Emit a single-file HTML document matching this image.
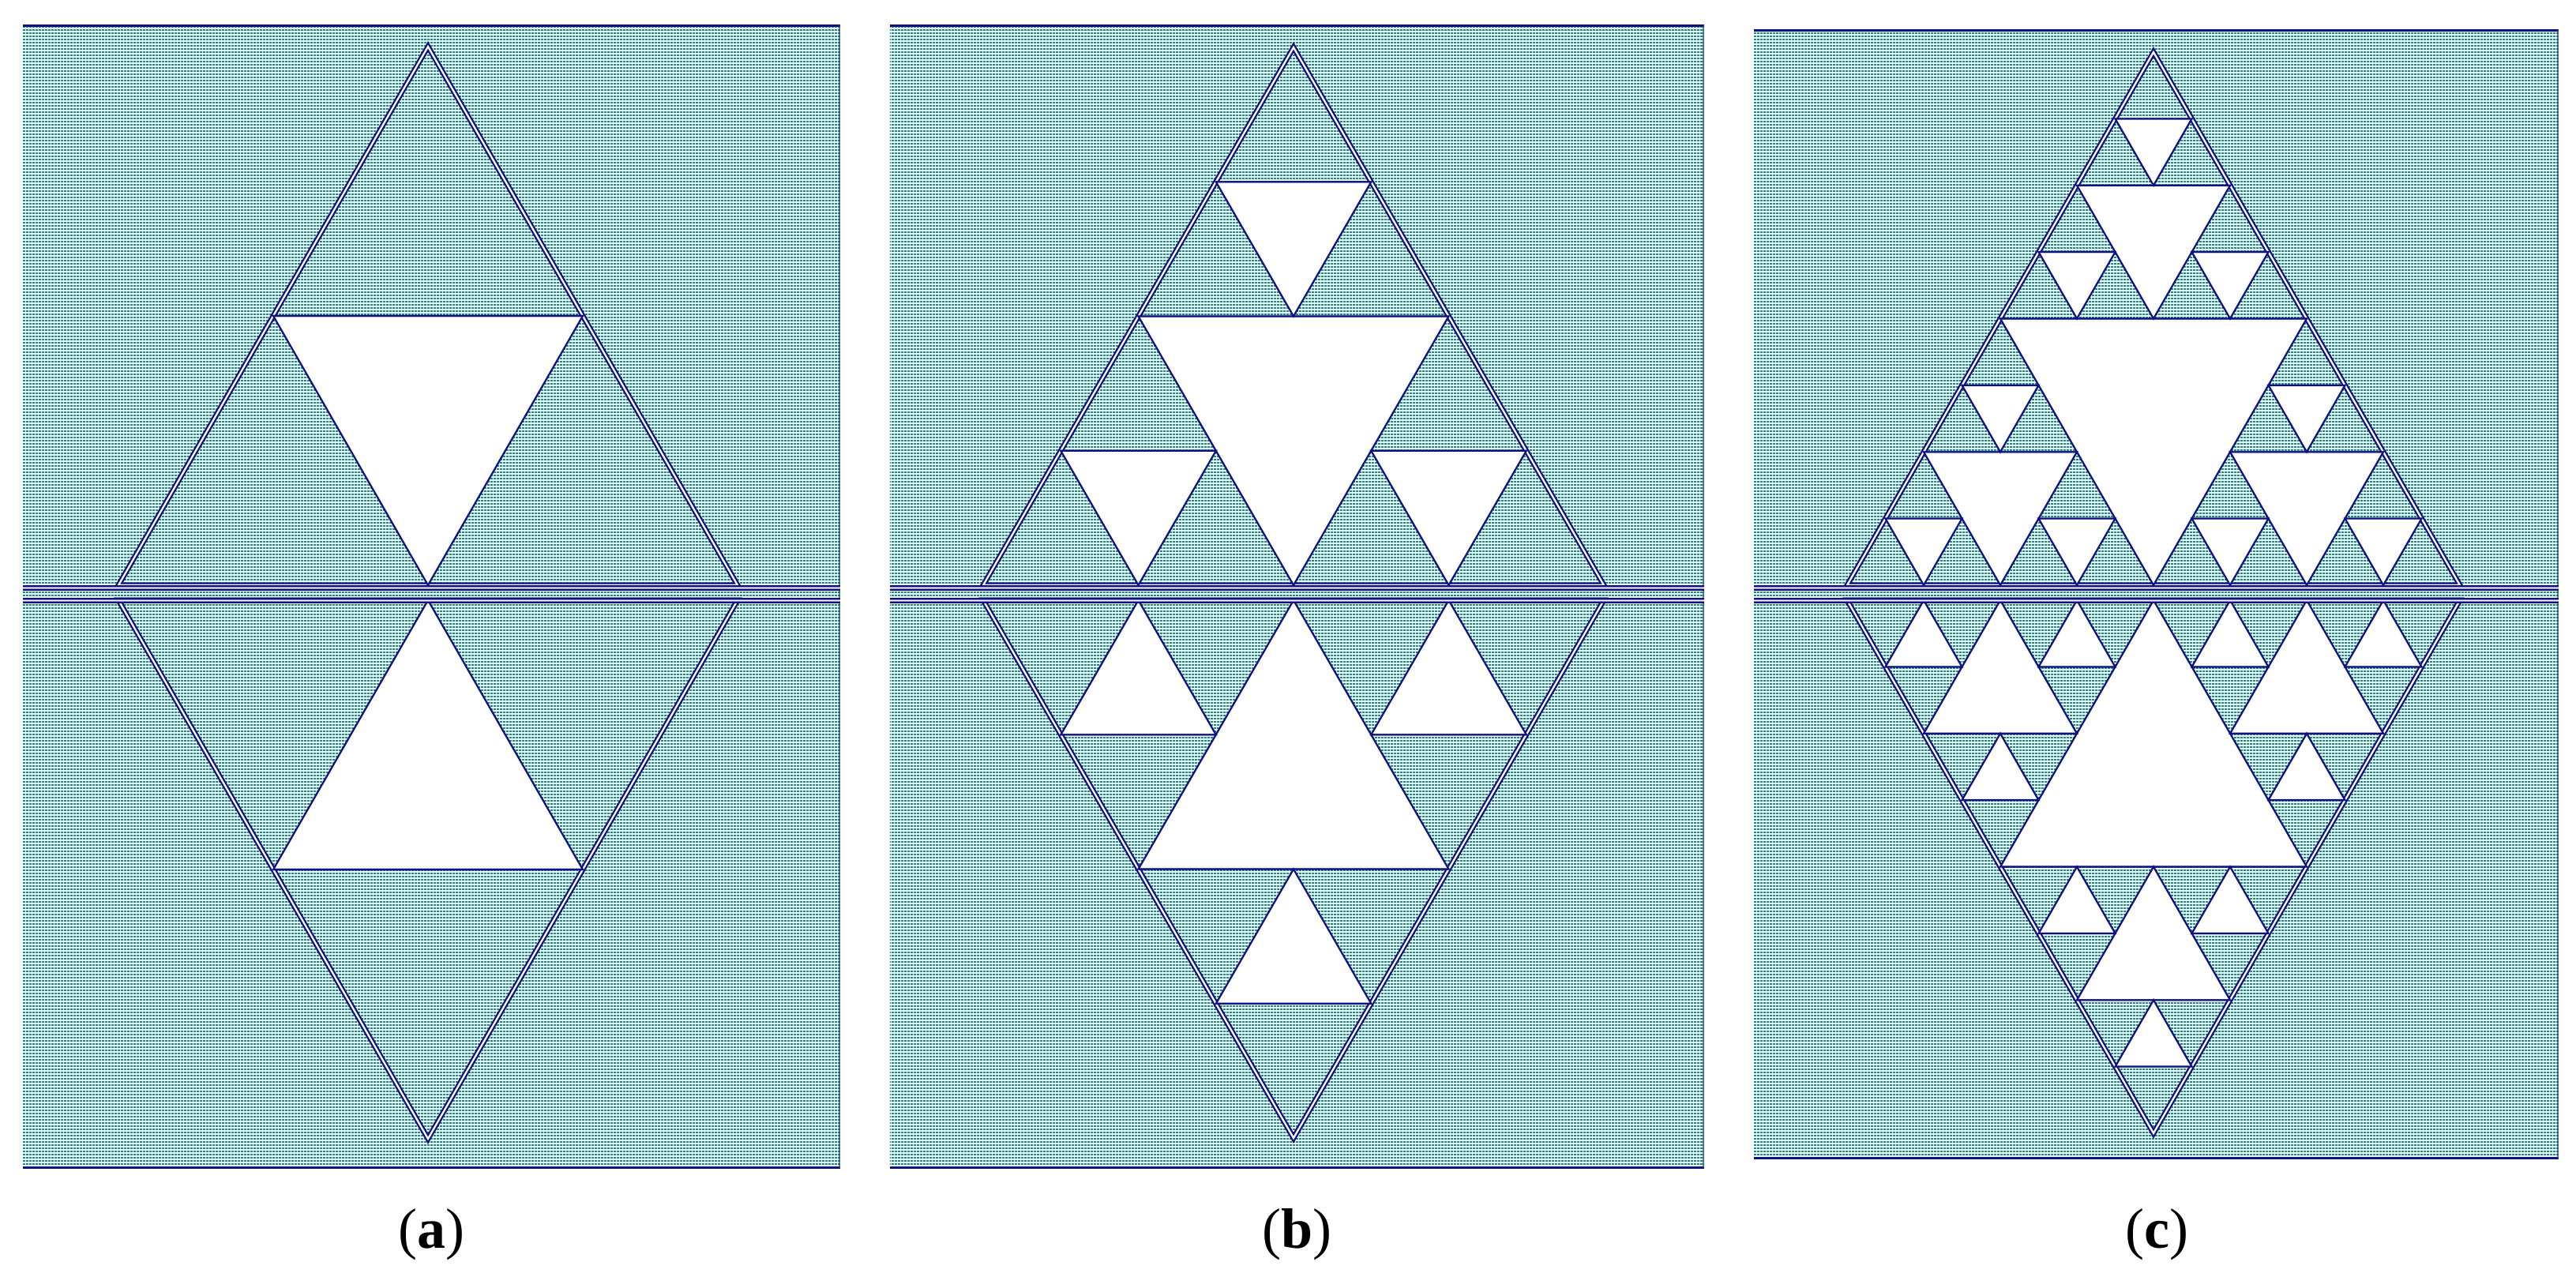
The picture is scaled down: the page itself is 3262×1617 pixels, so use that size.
<!DOCTYPE html>
<html><head><meta charset="utf-8"><style>
html,body{margin:0;padding:0;background:#fff;}
svg{display:block}
</style></head><body>
<svg id="s" xmlns="http://www.w3.org/2000/svg" width="3262" height="1617" viewBox="0 0 3262 1617" shape-rendering="crispEdges">
<defs>
<pattern id="dots" width="4" height="4" patternUnits="userSpaceOnUse" x="0" y="0">
<rect width="4" height="4" fill="#eef8f7"/>
<rect x="1" y="1" width="3" height="2" fill="#198c87"/>
</pattern>
</defs>
<g id="g"></g>
<text x="546" y="1580" text-anchor="middle" font-family="Liberation Serif, serif" font-size="72" shape-rendering="auto">(<tspan font-weight="bold">a</tspan>)</text>
<text x="1642" y="1580" text-anchor="middle" font-family="Liberation Serif, serif" font-size="72">(<tspan font-weight="bold">b</tspan>)</text>
<text x="2731" y="1580" text-anchor="middle" font-family="Liberation Serif, serif" font-size="72">(<tspan font-weight="bold">c</tspan>)</text>
</svg>
<script>
var g=document.getElementById('g');var out='';
var N='#101080';
function poly(pts,fill,stroke,sw){out+='<polygon shape-rendering="auto" points="'+pts.map(function(p){return p[0].toFixed(1)+','+p[1].toFixed(1)}).join(' ')+'" fill="'+fill+'" stroke="'+stroke+'" stroke-width="'+sw+'" stroke-linejoin="miter"/>';}
function holes(cx,y0,W,H,lvl,d){
  if(lvl<=0)return;
  var ym=y0+d*H/2;
  poly([[cx-W/2,ym],[cx+W/2,ym],[cx,y0+d*H]],'#fff',N,2.4);
  holes(cx,y0,W/2,H/2,lvl-1,d);
  holes(cx-W/2,ym,W/2,H/2,lvl-1,d);
  holes(cx+W/2,ym,W/2,H/2,lvl-1,d);
}
function panel(x0,x1,y0,y1,cx,ya,W,lvl){
  out+='<rect x="'+x0+'" y="'+y0+'" width="'+(x1-x0)+'" height="'+(y1-y0)+'" fill="url(#dots)"/>';
  out+='<rect x="'+x0+'" y="'+(y0-1)+'" width="'+(x1-x0)+'" height="3" fill="'+N+'"/>';
  out+='<rect x="'+x0+'" y="'+(y1-2)+'" width="'+(x1-x0)+'" height="3" fill="'+N+'"/>';
  out+='<rect x="'+(x1-2)+'" y="'+y0+'" width="2" height="'+(y1-y0)+'" fill="#1a4a7a" opacity="0.7"/>';
  var yb=741, yl=760, H=yb-ya;
  var up=[[cx,ya],[cx-W,yb],[cx+W,yb]];
  var dn=[[cx,yl+H],[cx-W,yl],[cx+W,yl]];
  [up,dn].forEach(function(t){
    poly(t,'none',N,7);
    poly(t,'none','#fff',2.4);
  });
  holes(cx,ya,W,H,lvl,1);
  holes(cx,yl+H,W,H,lvl,-1);
  [741,757].forEach(function(y){
    out+='<rect x="'+x0+'" y="'+y+'" width="'+(x1-x0)+'" height="7" fill="'+N+'"/>';
    out+='<rect x="'+x0+'" y="'+(y+2.5)+'" width="'+(x1-x0)+'" height="2" fill="#fff"/>';
  });
}
panel(29,1064,32,1479,542,59,392,1);
panel(1127,2158,32,1479,1638,60,393,2);
panel(2221,3240,38,1467,2727,66,388,3);
g.innerHTML=out;
</script>
</body></html>
